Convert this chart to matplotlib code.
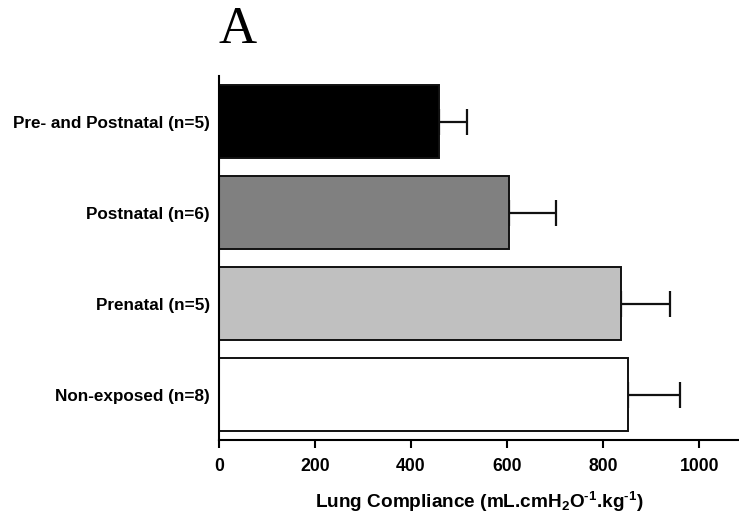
import matplotlib
matplotlib.use("Agg")
import matplotlib.pyplot as plt

groups = ["Non-exposed (n=8)", "Prenatal (n=5)", "Postnatal (n=6)", "Pre- and Postnatal (n=5)"]
compliance = [851, 837, 604, 459]
sem = [109, 103, 98, 58]
fills = ["#ffffff", "#c0c0c0", "#808080", "#000000"]
xticks = [0, 200, 400, 600, 800, 1000]

plt.rcParams["font.family"] = ["Liberation Sans", "DejaVu Sans"]
plt.rcParams["mathtext.fontset"] = "custom"
plt.rcParams["mathtext.rm"] = "Liberation Sans:bold"
plt.rcParams["mathtext.bf"] = "Liberation Sans:bold"
plt.rcParams["mathtext.it"] = "Liberation Sans:bold"
plt.rcParams["mathtext.default"] = "bf"

fig = plt.figure(figsize=(7.39, 5.22), dpi=100)
ax = fig.add_axes([0.2963, 0.157, 0.7037, 0.6973])

pos = list(range(len(groups)))
ax.barh(pos, compliance, height=0.8, color=fills, edgecolor="#111111", linewidth=1.4, zorder=2)
ax.errorbar(compliance, pos, xerr=[[0] * len(sem), sem], fmt="none", ecolor="#111111",
            elinewidth=1.6, capsize=9.5, capthick=1.6, zorder=1)

ax.set_xlim(0, 1083)
ax.set_ylim(-0.5, 3.5)
ax.set_xticks(xticks)
ax.set_xticklabels([str(t) for t in xticks], fontsize=12.7, fontweight="bold")
ax.set_yticks(pos)
ax.set_yticklabels(groups, fontsize=12.3, fontweight="bold")
ax.tick_params(axis="y", length=0, pad=6.5)
ax.tick_params(axis="x", length=5.8, width=1.5, pad=7)

for s in ["top", "right"]:
    ax.spines[s].set_visible(False)
for s in ["left", "bottom"]:
    ax.spines[s].set_linewidth(1.5)

ax.set_xlabel("Lung Compliance (mL.cmH$_{2}$O$^{\u20101}$.kg$^{\u20101}$)",
              fontsize=13.7, fontweight="bold", labelpad=11)

fig.text(0.3214, 1 - 43 / 522, "A", fontsize=38, family="Liberation Serif",
         ha="center", va="baseline")

fig.savefig("out.png", dpi=100)
